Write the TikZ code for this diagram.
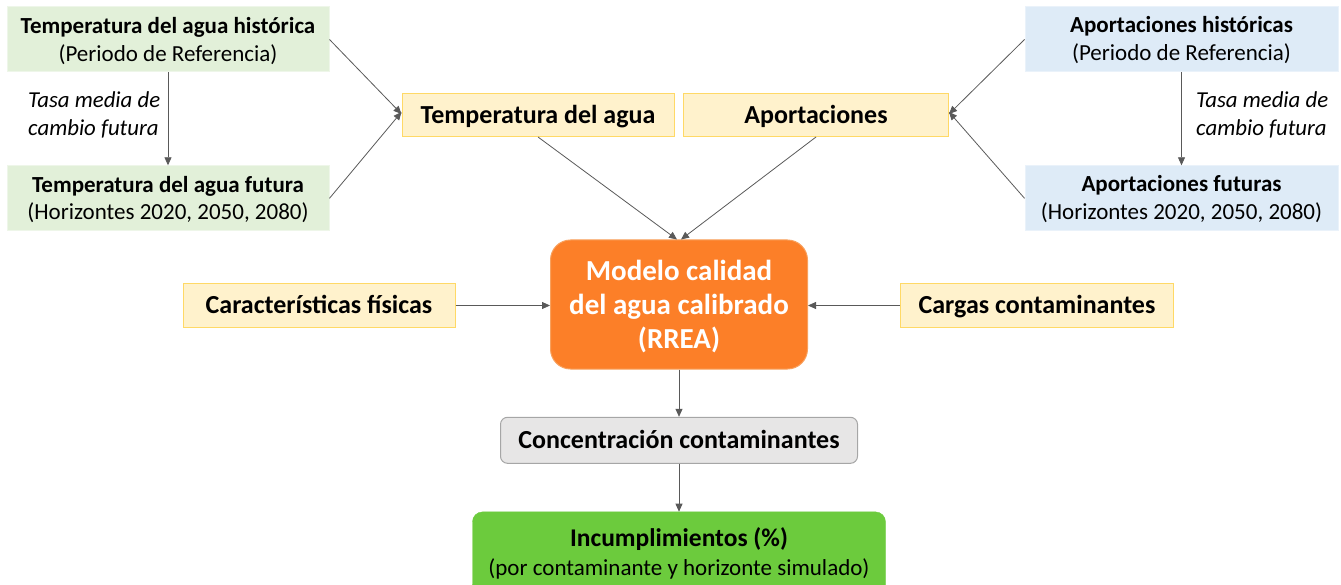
\documentclass[tikz,border=0pt]{standalone}
\usepackage{fontspec}
\setmainfont{Carlito}
\usetikzlibrary{arrows.meta,positioning}
\definecolor{lgreen}{HTML}{E2F0D9}
\definecolor{lgreenb}{HTML}{EEF6E9}
\definecolor{lblue}{HTML}{DEEBF7}
\definecolor{lblueb}{HTML}{EAF2FA}
\definecolor{lyel}{HTML}{FFF2CC}
\definecolor{lyelb}{HTML}{FFD966}
\definecolor{orng}{HTML}{FC7F28}
\definecolor{orngb}{HTML}{F8A15E}
\definecolor{grn}{HTML}{6CCB3D}
\definecolor{lgray}{HTML}{E7E6E6}
\definecolor{lgrayb}{HTML}{A6A6A6}
\definecolor{arr}{HTML}{595959}
\tikzset{
  base/.style={inner sep=0pt, align=center},
  txt/.style={inner sep=0pt, anchor=base, font=\fontsize{23}{28}\selectfont},
  txtb/.style={txt, font=\fontsize{23}{28}\selectfont\bfseries},
  greenbox/.style={base, fill=lgreen, draw=lgreenb, line width=1pt, minimum width=322pt, minimum height=65pt},
  bluebox/.style={base, fill=lblue, draw=lblueb, line width=1pt, minimum width=313pt, minimum height=65pt},
  yelbox/.style={base, fill=lyel, draw=lyelb, line width=1pt, minimum height=43pt, text height=20.6pt, text depth=4pt, font=\fontsize{26}{30}\selectfont\bfseries},
  modbox/.style={base, fill=orng, draw=orngb, line width=1pt, rounded corners=20pt, minimum width=257pt, minimum height=129pt},
  modtxt/.style={txt, text=white, font=\fontsize{29}{34}\selectfont\bfseries},
  concbox/.style={base, fill=lgray, draw=lgrayb, line width=1pt, rounded corners=7pt, minimum width=357pt, minimum height=46pt, text height=20.6pt, text depth=4pt, font=\fontsize{26}{30}\selectfont\bfseries},
  incbox/.style={base, fill=grn, draw=grn, rounded corners=10pt, minimum width=413pt, minimum height=82pt},
  conn/.style={draw=arr, line width=0.8pt, -{Triangle[length=8pt,width=7pt]}},
  lbl/.style={inner sep=0pt, anchor=base west, font=\fontsize{22.8}{28}\selectfont\itshape},
}
\begin{document}
\begin{tikzpicture}[x=1pt,y=-1pt]
\useasboundingbox (0,0) rectangle (1341,585);
% boxes
\node[greenbox] (gh) at (168,39.5) {};
\node[greenbox] (gf) at (168,198.3) {};
\node[bluebox] (bh) at (1181.5,39.5) {};
\node[bluebox] (bf) at (1181.5,198.3) {};
\node[yelbox, minimum width=272pt] (yt) at (538,115) {Temperatura del agua};
\node[yelbox, minimum width=265pt] (ya) at (816,115) {Aportaciones};
\node[modbox] (mod) at (679,304.5) {};
\node[yelbox, minimum width=272pt] (cf) at (319,305.5) {Características físicas};
\node[yelbox, minimum width=273pt] (cc) at (1037,305.5) {Cargas contaminantes};
\node[concbox] (conc) at (679,440.3) {Concentración contaminantes};
\node[incbox, anchor=north] (inc) at (679,511.7) {};
% texts
\node[txtb] (gh1) at (168,33.4) {Temperatura del agua histórica};
\node[txt]  (gh2) at (168,61.2) {(Periodo de Referencia)};
\node[txtb] (gf1) at (168,192.5) {Temperatura del agua futura};
\node[txt]  (gf2) at (168,220) {(Horizontes 2020, 2050, 2080)};
\node[txtb] (bh1) at (1181.5,32.8) {Aportaciones históricas};
\node[txt]  (bh2) at (1181.5,60.6) {(Periodo de Referencia)};
\node[txtb] (bf1) at (1181.5,192) {Aportaciones futuras};
\node[txt]  (bf2) at (1181.5,219.6) {(Horizontes 2020, 2050, 2080)};
\node[modtxt] (m1) at (679,280) {Modelo calidad};
\node[modtxt] (m2) at (679,314.3) {del agua calibrado};
\node[modtxt] (m3) at (679,348.6) {(RREA)};
\node[txt, font=\fontsize{25.5}{30}\selectfont\bfseries] (i1) at (679,546.7) {Incumplimientos (\%)};
\node[txt] (i2) at (679,575) {(por contaminante y horizonte simulado)};
\node[lbl] (l1a) at (28,108) {Tasa media de};
\node[lbl] (l1b) at (28,136) {cambio futura};
\node[lbl] (l2a) at (1196,108) {Tasa media de};
\node[lbl] (l2b) at (1196,136) {cambio futura};
% connectors
\draw[conn] (gh.south) -- (gf.north);
\draw[conn] (bh.south) -- (bf.north);
\draw[conn] (gh.east) -- ([yshift=1pt]yt.west);
\draw[conn] (gf.east) -- ([yshift=3pt]yt.west);
\draw[conn] (bh.west) -- ([yshift=1pt]ya.east);
\draw[conn] (bf.west) -- ([yshift=3pt]ya.east);
\draw[conn] (yt.south) -- ([xshift=-2pt]mod.north);
\draw[conn] (ya.south) -- ([xshift=2pt]mod.north);
\draw[conn] (cf.east) -- (cf.east -| mod.west);
\draw[conn] (cc.west) -- (cc.west -| mod.east);
\draw[conn] (mod.south) -- (mod.south |- conc.north);
\draw[conn] (conc.south) -- (conc.south |- inc.north);
\end{tikzpicture}
\end{document}
